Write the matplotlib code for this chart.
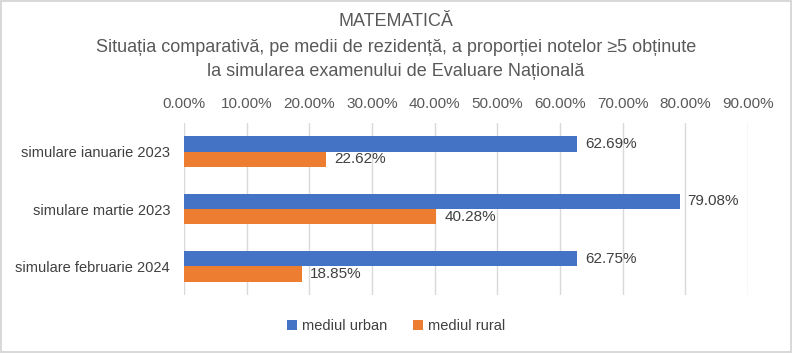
import matplotlib.pyplot as plt
import numpy as np
from matplotlib.ticker import FuncFormatter

categories = ['simulare ianuarie 2023', 'simulare martie 2023', 'simulare februarie 2024']
urban = [62.69, 79.08, 62.75]
rural = [22.62, 40.28, 18.85]
series_names = ['mediul urban', 'mediul rural']

blue = '#4472C4'
orange = '#ED7D31'
text_col = '#595959'
narrow = ['Liberation Sans Narrow', 'Liberation Sans', 'DejaVu Sans']
regular = ['Liberation Sans', 'DejaVu Sans']

fig = plt.figure(figsize=(7.92, 3.53), dpi=100)
fig.patch.set_edgecolor('#d9d9d9')
fig.patch.set_linewidth(1.5)
ax = fig.add_axes([184 / 792, 1 - 295 / 353, (748 - 184) / 792, (295 - 123) / 353])

y = np.arange(len(categories))
h = 0.265
ax.barh(y - h / 2, urban, height=h, color=blue, label=series_names[0], zorder=3)
ax.barh(y + h / 2, rural, height=h, color=orange, label=series_names[1], zorder=3)

# data labels
for i in range(len(categories)):
    ax.text(urban[i] + 1.3, y[i] - h / 2, f'{urban[i]:.2f}%', va='center', ha='left',
            fontsize=11, color='#404040', family=regular)
    ax.text(rural[i] + 1.3, y[i] + h / 2, f'{rural[i]:.2f}%', va='center', ha='left',
            fontsize=11, color='#404040', family=regular)

ax.set_xlim(0, 90)
ax.set_ylim(2.5, -0.5)
ax.set_xticks(np.arange(0, 91, 10))
ax.xaxis.set_major_formatter(FuncFormatter(lambda v, p: f'{v:.2f}%'))
ax.xaxis.tick_top()
ax.tick_params(axis='x', length=0, pad=9, labelsize=11, labelcolor=text_col)
for lab in ax.get_xticklabels():
    lab.set_family(narrow)
ax.set_yticks(y)
ax.set_yticklabels(categories, fontsize=10.5, color='#404040', family=regular)
ax.tick_params(axis='y', length=0, pad=10)
ax.grid(axis='x', color='#d9d9d9', linewidth=1, zorder=0)
for s in ax.spines.values():
    s.set_visible(False)

fig.text(0.5, 1 - 21 / 353, 'MATEMATICĂ', ha='center', va='center', fontsize=13,
         color=text_col, family=narrow)
fig.text(0.5, 1 - 48 / 353, 'Situația comparativă, pe medii de rezidență, a proporției notelor ≥5 obținute',
         ha='center', va='center', fontsize=13, color=text_col, family=narrow)
fig.text(0.5, 1 - 72 / 353, 'la simularea examenului de Evaluare Națională',
         ha='center', va='center', fontsize=13, color=text_col, family=narrow)

fig.legend(loc='center', bbox_to_anchor=(0.5, 1 - 326 / 353), ncol=2, frameon=False,
           handlelength=0.7, handleheight=0.7, handletextpad=0.3, columnspacing=1.8,
           prop={'family': regular, 'size': 10.5}, labelcolor='#404040')

fig.savefig('out.png', dpi=100)
